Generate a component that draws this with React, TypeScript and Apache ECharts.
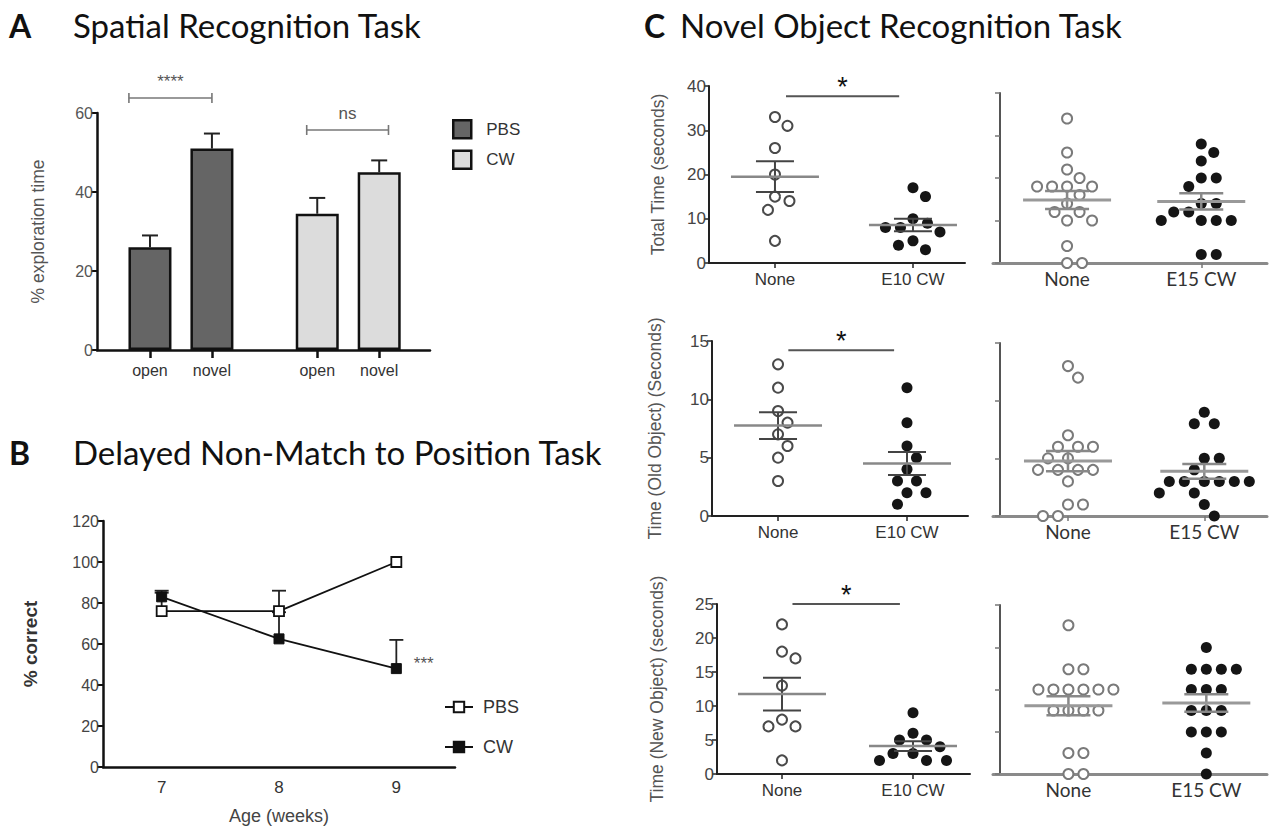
import React, { useEffect, useRef } from 'react';
import * as echarts from 'echarts';

// ---------------- DATA ----------------
// Panel A – Spatial Recognition Task
const aCategories = ['open', 'novel', 'open', 'novel'];
const aPbsValues = [26, 51];
const aPbsErrors = [3, 3.8];
const aCwValues = [34.5, 45];
const aCwErrors = [4, 3];
const aSigLabels = ['****', 'ns'];
const aYTicks = { min: 0, max: 60, interval: 20 };

// Panel B – Delayed Non-Match to Position Task
const bWeeks = ['7', '8', '9'];
const bPbs = [76, 76, 100];
const bPbsErr = [9, 10, 0];
const bCw = [83, 62.5, 48];
const bCwErr = [3, 13, 14];
const bCwSig = ['', '', '***'];

// Panel C – Novel Object Recognition Task
const cLeftGroups = ['None', 'E10 CW'];
const cRightGroups = ['None', 'E15 CW'];
const cSig = '*';
const totalNoneE10 = [33, 31, 26, 20, 15, 14, 12, 5];
const totalE10 = [17, 15, 10, 9, 8, 8, 7, 5, 4, 3];
const totalNoneE15 = [34, 26, 22, 20, 18, 18, 18, 18, 16, 14, 12, 12, 10, 10, 4, 0, 0];
const totalE15 = [28, 26, 24, 20, 20, 18, 14, 14, 12, 12, 10, 10, 10, 10, 2, 2];
const oldNoneE10 = [13, 11, 9, 8, 7, 6, 5, 3];
const oldE10 = [11, 8, 6, 5, 4, 3, 3, 2, 2, 1];
const oldNoneE15 = [13, 12, 7, 6, 6, 6, 5, 5, 4, 4, 4, 4, 3, 1, 1, 0, 0];
const oldE15 = [9, 8, 8, 5, 5, 4, 3, 3, 3, 3, 3, 3, 2, 2, 1, 0];
const newNoneE10 = [22, 18, 17, 13, 8, 7, 7, 2];
const newE10 = [9, 6, 5, 5, 4, 3, 3, 2, 2, 2];
const newNoneE15 = [22, 15.5, 15.5, 12.5, 12.5, 12.5, 12.5, 12.5, 12.5, 9.4, 9.4, 9.4, 9.4, 3.1, 3.1, 0, 0];
const newE15 = [18.7, 15.5, 15.5, 15.5, 15.5, 12.5, 12.5, 12.5, 9.4, 9.4, 9.4, 6.2, 6.2, 6.2, 3.1, 0];

// ---------------- LAYOUT / STYLE ----------------
const FONT = 'Liberation Sans, Arial, Helvetica, sans-serif';
const TFONT = 'Lato, Open Sans, sans-serif';
const aPos = [1, 2, 3.7, 4.7];
const aBracketX = [[0.66, 2.0, 63.8], [3.53, 4.85, 55.7]];

function mean(a: number[]) {
  return a.reduce((s, v) => s + v, 0) / a.length;
}
function sem(a: number[]) {
  const m = mean(a);
  const v = a.reduce((s, x) => s + (x - m) * (x - m), 0) / (a.length - 1);
  return Math.sqrt(v) / Math.sqrt(a.length);
}

// simple beeswarm: offsets in px so circles of spacing d do not overlap
function swarm(values: number[], ppu: number, d: number): number[] {
  const placed: [number, number][] = [];
  return values.map((v) => {
    const y = v * ppu;
    const ok = (x: number) => placed.every(([px, py]) => (px - x) * (px - x) + (py - y) * (py - y) >= d * d - 0.01);
    const near = placed.filter(([, py]) => Math.abs(py - y) < d);
    const sum = near.reduce((s, p) => s + p[0], 0);
    let chosen = 0;
    for (let k = 0; k <= 600; k++) {
      const st = k * 0.5;
      const cands = k === 0 ? [0] : sum <= 0 ? [st, -st] : [-st, st];
      const hit = cands.find(ok);
      if (hit !== undefined) {
        chosen = hit;
        break;
      }
    }
    placed.push([chosen, y]);
    return chosen;
  });
}

type Panel = {
  grid: { left: number; top: number; width: number; height: number };
  yMax: number;
  yInterval: number;
  right: boolean;
  cats: string[];
  ctrl: number[];
  trt: number[];
  yName?: string;
  nameGap?: number;
  xMin: number;
  xMax: number;
  sigY?: number;
};

const cPanels: Panel[] = [
  { grid: { left: 709, top: 86, width: 256, height: 177 }, yMax: 40, yInterval: 10, right: false, cats: cLeftGroups, ctrl: totalNoneE10, trt: totalE10, yName: 'Total Time (seconds)', nameGap: 42, xMin: -0.478, xMax: 1.377, sigY: 37.7 },
  { grid: { left: 712, top: 341, width: 256, height: 175 }, yMax: 15, yInterval: 5, right: false, cats: cLeftGroups, ctrl: oldNoneE10, trt: oldE10, yName: 'Time (Old Object) (Seconds)', nameGap: 48, xMin: -0.512, xMax: 1.473, sigY: 14.2 },
  { grid: { left: 717, top: 604, width: 253, height: 170 }, yMax: 25, yInterval: 5, right: false, cats: cLeftGroups, ctrl: newNoneE10, trt: newE10, yName: 'Time (New Object) (seconds)', nameGap: 51, xMin: -0.496, xMax: 1.435, sigY: 25 },
  { grid: { left: 993, top: 93, width: 274, height: 170 }, yMax: 40, yInterval: 10, right: true, cats: cRightGroups, ctrl: totalNoneE15, trt: totalE15, xMin: -0.552, xMax: 1.49 },
  { grid: { left: 993, top: 343, width: 274, height: 173 }, yMax: 15, yInterval: 5, right: true, cats: cRightGroups, ctrl: oldNoneE15, trt: oldE15, xMin: -0.55, xMax: 1.46 },
  { grid: { left: 993, top: 605, width: 274, height: 169 }, yMax: 25, yInterval: 6.25, right: true, cats: cRightGroups, ctrl: newNoneE15, trt: newE15, xMin: -0.547, xMax: 1.44 },
];

const txt = (o: any) => ({ ...o, textAlign: o.align, textVerticalAlign: o.verticalAlign });

function errRender(cap: number, color: string, width: number) {
  return (params: any, api: any) => {
    const x = api.value(0);
    const m = api.value(1);
    const e = api.value(2);
    const b = api.coord([x, m]);
    const t = api.coord([x, m + e]);
    return {
      type: 'group',
      children: [
        { type: 'line', shape: { x1: b[0], y1: b[1], x2: t[0], y2: t[1] }, style: { stroke: color, lineWidth: width } },
        { type: 'line', shape: { x1: t[0] - cap, y1: t[1], x2: t[0] + cap, y2: t[1] }, style: { stroke: color, lineWidth: width } },
      ],
    };
  };
}

function meanRender(st: { half: number; sem: number; meanC: string; meanW: number; semC: string; semW: number }) {
  return (params: any, api: any) => {
    const x = api.value(0);
    const m = api.value(1);
    const s = api.value(2);
    const c = api.coord([x, m]);
    const t = api.coord([x, m + s]);
    const b = api.coord([x, m - s]);
    return {
      type: 'group',
      children: [
        { type: 'line', shape: { x1: t[0], y1: t[1], x2: b[0], y2: b[1] }, style: { stroke: st.semC, lineWidth: st.semW } },
        { type: 'line', shape: { x1: t[0] - st.sem, y1: t[1], x2: t[0] + st.sem, y2: t[1] }, style: { stroke: st.semC, lineWidth: st.semW } },
        { type: 'line', shape: { x1: b[0] - st.sem, y1: b[1], x2: b[0] + st.sem, y2: b[1] }, style: { stroke: st.semC, lineWidth: st.semW } },
        { type: 'line', shape: { x1: c[0] - st.half, y1: c[1], x2: c[0] + st.half, y2: c[1] }, style: { stroke: st.meanC, lineWidth: st.meanW } },
      ],
    };
  };
}

function buildOption() {
  const grids: any[] = [];
  const xAxes: any[] = [];
  const yAxes: any[] = [];
  const series: any[] = [];

  // ---- Panel A ----
  grids.push({ left: 97, top: 113, width: 333, height: 237 });
  xAxes.push({
    type: 'value', gridIndex: 0, min: 0.145, max: 5.52,
    axisLine: { show: true, onZero: false, lineStyle: { color: '#111', width: 2.5 } },
    axisTick: { show: true, customValues: aPos, length: 8, lineStyle: { color: '#111', width: 2.5 } },
    axisLabel: { customValues: aPos, formatter: (v: number) => aCategories[aPos.indexOf(v)] ?? '', fontFamily: FONT, fontSize: 16, color: '#333', margin: 12 },
    splitLine: { show: false },
  });
  yAxes.push({
    type: 'value', gridIndex: 0, min: aYTicks.min, max: aYTicks.max, interval: aYTicks.interval,
    name: '% exploration time', nameLocation: 'middle', nameRotate: 90, nameGap: 50,
    nameTextStyle: { fontFamily: FONT, fontSize: 17.5, color: '#555' },
    axisLine: { show: true, onZero: false, lineStyle: { color: '#111', width: 2.5 } },
    axisTick: { show: true, length: 6, lineStyle: { color: '#111', width: 2 } },
    axisLabel: { fontFamily: FONT, fontSize: 16, color: '#555', margin: 4 },
    splitLine: { show: false },
  });
  series.push({
    name: 'A:PBS', type: 'bar', xAxisIndex: 0, yAxisIndex: 0, barWidth: 43, barGap: '-100%',
    data: aPbsValues.map((v, i) => [aPos[i], v]),
    itemStyle: { color: '#656565', borderColor: '#111', borderWidth: 2.5 }, z: 3,
  });
  series.push({
    name: 'A:CW', type: 'bar', xAxisIndex: 0, yAxisIndex: 0, barWidth: 43, barGap: '-100%',
    data: aCwValues.map((v, i) => [aPos[i + 2], v]),
    itemStyle: { color: '#dcdcdc', borderColor: '#111', borderWidth: 2.5 }, z: 3,
  });
  series.push({
    type: 'custom', xAxisIndex: 0, yAxisIndex: 0, z: 2, silent: true,
    data: [...aPbsValues, ...aCwValues].map((v, i) => [aPos[i], v, [...aPbsErrors, ...aCwErrors][i]]),
    renderItem: errRender(8, '#222', 2),
  });
  series.push({
    type: 'custom', xAxisIndex: 0, yAxisIndex: 0, z: 2, silent: true,
    data: aBracketX,
    renderItem: (params: any, api: any) => {
      const a = api.coord([api.value(0), api.value(2)]);
      const b = api.coord([api.value(1), api.value(2)]);
      const st = { stroke: '#777', lineWidth: 1.6 };
      return {
        type: 'group',
        children: [
          { type: 'line', shape: { x1: a[0], y1: a[1], x2: b[0], y2: b[1] }, style: st },
          { type: 'line', shape: { x1: a[0], y1: a[1] - 5, x2: a[0], y2: a[1] + 5 }, style: st },
          { type: 'line', shape: { x1: b[0], y1: b[1] - 5, x2: b[0], y2: b[1] + 5 }, style: st },
          { type: 'text', x: (a[0] + b[0]) / 2, y: a[1] - 8, style: txt({ text: aSigLabels[params.dataIndex], fontSize: 17, fontFamily: FONT, fill: '#555', align: 'center', verticalAlign: 'bottom' }) },
        ],
      };
    },
  });

  // ---- Panel B ----
  grids.push({ left: 103, top: 521, width: 352, height: 246 });
  xAxes.push({
    type: 'category', gridIndex: 1, data: bWeeks, boundaryGap: true,
    name: 'Age (weeks)', nameLocation: 'middle', nameGap: 40,
    nameTextStyle: { fontFamily: FONT, fontSize: 18, color: '#444' },
    axisLine: { onZero: false, lineStyle: { color: '#111', width: 2.5 } },
    axisTick: { alignWithLabel: true, length: 7, lineStyle: { color: '#111', width: 2 } },
    axisLabel: { fontFamily: FONT, fontSize: 17, color: '#333', margin: 12 },
  });
  yAxes.push({
    type: 'value', gridIndex: 1, min: 0, max: 120, interval: 20,
    name: '% correct', nameLocation: 'middle', nameRotate: 90, nameGap: 63,
    nameTextStyle: { fontFamily: FONT, fontSize: 19, fontWeight: 'bold', color: '#333' },
    axisLine: { show: true, onZero: false, lineStyle: { color: '#111', width: 2.5 } },
    axisTick: { show: true, length: 6, lineStyle: { color: '#111', width: 2 } },
    axisLabel: { fontFamily: FONT, fontSize: 16, color: '#444', margin: 4 },
    splitLine: { show: false },
  });
  series.push({
    type: 'custom', xAxisIndex: 1, yAxisIndex: 1, z: 2, silent: true,
    data: [
      ...bPbs.map((v, i) => [i, v, bPbsErr[i]]),
      ...bCw.map((v, i) => [i, v, bCwErr[i]]),
    ].filter((d) => d[2] > 0),
    renderItem: errRender(7, '#222', 1.8),
  });
  series.push({
    name: 'B:PBS', type: 'line', xAxisIndex: 1, yAxisIndex: 1, data: bPbs,
    symbol: 'rect', symbolSize: 10,
    itemStyle: { color: '#fff', borderColor: '#111', borderWidth: 1.8 },
    lineStyle: { color: '#111', width: 1.8 }, z: 4,
  });
  series.push({
    name: 'B:CW', type: 'line', xAxisIndex: 1, yAxisIndex: 1,
    data: bCw.map((v, i) =>
      bCwSig[i]
        ? { value: v, label: { show: true, formatter: bCwSig[i], position: 'right', distance: 12, offset: [0, -5], fontFamily: FONT, fontSize: 17, color: '#555' } }
        : v
    ),
    symbol: 'rect', symbolSize: 10,
    itemStyle: { color: '#111', borderColor: '#111', borderWidth: 1 },
    lineStyle: { color: '#111', width: 1.8 }, z: 5,
  });

  // ---- Panel C ----
  cPanels.forEach((p, k) => {
    const gi = k + 2;
    grids.push(p.grid);
    const axisColor = p.right ? '#555' : '#222';
    xAxes.push({
      type: 'value', gridIndex: gi, min: p.xMin, max: p.xMax,
      axisLine: { show: true, onZero: false, lineStyle: { color: p.right ? '#8a8a8a' : '#222', width: p.right ? 3 : 2 } },
      axisTick: { show: true, customValues: [0, 1], length: 5, lineStyle: { color: p.right ? '#777' : '#222', width: 1.5 } },
      axisLabel: {
        customValues: [0, 1], formatter: (v: number) => p.cats[Math.round(v)] ?? '',
        fontFamily: p.right ? TFONT : FONT, fontSize: p.right ? 19 : 17, color: '#333', margin: p.right ? 6 : 8,
      },
      splitLine: { show: false },
    });
    yAxes.push({
      type: 'value', gridIndex: gi, min: 0, max: p.yMax, interval: p.yInterval,
      offset: p.right ? -7 : 0,
      name: p.yName, nameLocation: 'middle', nameRotate: 90, nameGap: p.nameGap,
      nameTextStyle: { fontFamily: FONT, fontSize: 17.5, color: '#555' },
      axisLine: { show: true, onZero: false, lineStyle: { color: axisColor, width: 2 } },
      axisTick: { show: true, length: 5, lineStyle: { color: p.right ? '#777' : '#222', width: 1.5 } },
      axisLabel: { show: !p.right, fontFamily: FONT, fontSize: 17, color: '#444', margin: 3 },
      splitLine: { show: false },
    });
    const ppu = p.grid.height / p.yMax;
    const offC = swarm(p.ctrl, ppu, 15);
    const offT = swarm(p.trt, ppu, 15);
    series.push({
      name: p.cats[0], type: 'scatter', xAxisIndex: gi, yAxisIndex: gi, symbol: 'circle', symbolSize: 10,
      data: p.ctrl.map((v, i) => ({ value: [0, v], symbolOffset: [offC[i], 0] })),
      itemStyle: { color: '#fff', borderColor: p.right ? '#7a7a7a' : '#4a4a4a', borderWidth: 2, opacity: 1 }, z: 3,
    });
    series.push({
      name: p.cats[1], type: 'scatter', xAxisIndex: gi, yAxisIndex: gi, symbol: 'circle', symbolSize: 11,
      data: p.trt.map((v, i) => ({ value: [1, v], symbolOffset: [offT[i], 0] })),
      itemStyle: { color: '#151515', opacity: 1 }, z: 3,
    });
    series.push({
      type: 'custom', xAxisIndex: gi, yAxisIndex: gi, z: 5, silent: true,
      data: [[0, mean(p.ctrl), sem(p.ctrl)], [1, mean(p.trt), sem(p.trt)]],
      renderItem: meanRender(
        p.right
          ? { half: 44, sem: 22, meanC: '#999', meanW: 3, semC: '#888', semW: 2.5 }
          : { half: 44, sem: 19, meanC: '#888', meanW: 2.5, semC: '#444', semW: 2 }
      ),
    });
    if (p.sigY !== undefined) {
      series.push({
        type: 'custom', xAxisIndex: gi, yAxisIndex: gi, z: 5, silent: true,
        data: [[0.08, 0.9, p.sigY]],
        renderItem: (params: any, api: any) => {
          const a = api.coord([api.value(0), api.value(2)]);
          const b = api.coord([api.value(1), api.value(2)]);
          return {
            type: 'group',
            children: [
              { type: 'line', shape: { x1: a[0], y1: a[1], x2: b[0], y2: b[1] }, style: { stroke: '#555', lineWidth: 2 } },
              { type: 'text', x: (a[0] + b[0]) / 2, y: a[1] + 4, style: txt({ text: cSig, fontSize: 27, fontFamily: FONT, fill: '#111', align: 'center', verticalAlign: 'bottom' }) },
            ],
          };
        },
      });
    }
  });

  const titleStyle = (bold: boolean) => ({ fontFamily: TFONT, fontSize: bold ? 32 : 33, fontWeight: bold ? 'bold' : 'normal', color: '#111' });

  return {
    animation: false,
    backgroundColor: '#fff',
    textStyle: { fontFamily: FONT },
    title: [
      { text: 'A', left: 9, top: 9, padding: 0, textStyle: titleStyle(true) },
      { text: 'Spatial Recognition Task', left: 73, top: 8, padding: 0, textStyle: titleStyle(false) },
      { text: 'B', left: 9, top: 436, padding: 0, textStyle: titleStyle(true) },
      { text: 'Delayed Non-Match to Position Task', left: 73, top: 435, padding: 0, textStyle: titleStyle(false) },
      { text: 'C', left: 644, top: 9, padding: 0, textStyle: titleStyle(true) },
      { text: 'Novel Object Recognition Task', left: 680, top: 8, padding: 0, textStyle: titleStyle(false) },
    ],
    legend: [
      {
        data: ['A:PBS', 'A:CW'], left: 452, top: 119, orient: 'vertical', icon: 'rect',
        itemWidth: 18, itemHeight: 18, itemGap: 10, selectedMode: false, padding: 0,
        formatter: (n: string) => n.split(':')[1],
        itemStyle: { borderColor: '#111', borderWidth: 2.5 },
        textStyle: { fontFamily: FONT, fontSize: 17, color: '#333', padding: [0, 0, 0, 10] },
      },
      {
        data: ['B:PBS', 'B:CW'], left: 444, top: 698, orient: 'vertical',
        itemWidth: 28, itemHeight: 13, itemGap: 22, selectedMode: false, padding: 0,
        formatter: (n: string) => n.split(':')[1],
        textStyle: { fontFamily: FONT, fontSize: 18, color: '#333', padding: [0, 0, 0, 5] },
      },
    ],
    grid: grids,
    xAxis: xAxes,
    yAxis: yAxes,
    series,
  };
}

export default function App() {
  const ref = useRef<HTMLDivElement>(null);
  useEffect(() => {
    if (!ref.current) return;
    const chart = echarts.init(ref.current, undefined, { renderer: 'svg' });
    chart.setOption(buildOption() as any);
    return () => chart.dispose();
  }, []);
  return (
    <div
      ref={ref}
      style={{ position: 'fixed', left: 0, top: 0, width: 1285, height: 834, background: '#fff' }}
    />
  );
}
